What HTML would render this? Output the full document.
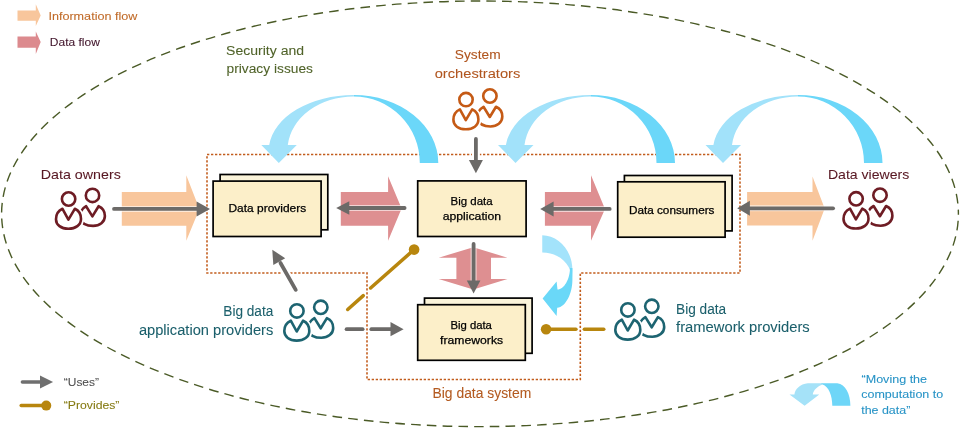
<!DOCTYPE html>
<html><head><meta charset="utf-8">
<style>
html,body{margin:0;padding:0;background:#fff;width:960px;height:428px;overflow:hidden}
svg{display:block;will-change:transform}
text{font-family:"Liberation Sans",sans-serif}
</style></head>
<body>
<svg width="960" height="428" viewBox="0 0 960 428">
<defs>
  <g id="pplS" fill="none" stroke-width="2.6" stroke-linejoin="round">
    <circle cx="23.9" cy="-3.6" r="6.7"/>
    <path d="M23.8,17.4 L30,7.2 C34.2,9 36.3,12.5 36.3,17 C36.3,23 31,26.9 24.5,26.9 C18,26.9 13,24.5 11,19.5 C10,15 13,9.5 17.5,7.2 Z"/>
    <path fill="#fff" stroke="#fff" stroke-width="6" d="M-0.2,20.6 L6.2,9.8 C10.3,11.6 12.4,15.5 12.4,20 C12.4,26 7,29.7 -0.2,29.7 C-7.5,29.7 -12.6,26 -12.6,20.2 C-12.6,15.5 -10,11.6 -6.1,9.8 Z"/>
    <path d="M-0.2,20.6 L6.2,9.8 C10.3,11.6 12.4,15.5 12.4,20 C12.4,26 7,29.7 -0.2,29.7 C-7.5,29.7 -12.6,26 -12.6,20.2 C-12.6,15.5 -10,11.6 -6.1,9.8 Z"/>
    <circle cx="0" cy="0" r="6.7"/>
  </g>
  <!-- curved down arrow, local: top at x=0, bottom y=0 -->
  <g id="cda">
    <path fill="#a2e2fa" d="M0,-68 A85,56 0 0 0 -84.6,-18 L-92.5,-18 L-75,0 L-57,-18 L-66,-18 A66,54 0 0 1 0,-66.5 Z"/>
    <path fill="#6bd7f9" d="M0,-68 A84.5,68 0 0 1 84.5,0 L66,0 A66,66.5 0 0 0 0,-66.5 Z"/>
  </g>
</defs>

<!-- dashed ellipse -->
<path d="M958.4,213.8 A478.4,212.8 0 0 1 1.6,213.8 A478.4,212.8 0 0 1 958.4,213.8 Z" fill="none" stroke="#4a5a26" stroke-width="1.4" stroke-dasharray="9.6 6.179" stroke-dashoffset="8.749"/>

<!-- legend top-left -->
<path d="M17.5,10.5 H35.8 V4.2 L40.7,15.6 L35.8,26 V20.8 H17.5 Z" fill="#f8c69c"/>
<path d="M17.5,36.5 H35.8 V31.5 L40.7,42 L35.8,54 V47.7 H17.5 Z" fill="#dc8a8e"/>
<text x="48.4" y="19.6" font-size="11.7" fill="#c06a28" textLength="89" lengthAdjust="spacingAndGlyphs" stroke="#c06a28" stroke-width="0.08">Information flow</text>
<text x="49.8" y="46.3" font-size="11.5" fill="#40142a" textLength="50" lengthAdjust="spacingAndGlyphs" stroke="#40142a" stroke-width="0.08">Data flow</text>

<!-- security text -->
<text font-size="13.7" fill="#4f6228" stroke="#4f6228" stroke-width="0.08"><tspan x="226.1" y="55.2" textLength="78" lengthAdjust="spacingAndGlyphs">Security and</tspan><tspan x="226.5" y="72.8" textLength="86.5" lengthAdjust="spacingAndGlyphs">privacy issues</tspan></text>

<!-- system orchestrators -->
<text font-size="13.7" fill="#b0551e" stroke="#b0551e" stroke-width="0.08"><tspan x="454.8" y="58.9" textLength="45.8" lengthAdjust="spacingAndGlyphs">System</tspan><tspan x="434.7" y="77.9" textLength="85.6" lengthAdjust="spacingAndGlyphs">orchestrators</tspan></text>

<!-- data owners / viewers -->
<text x="40.8" y="178.7" font-size="13.1" fill="#581823" textLength="80" lengthAdjust="spacingAndGlyphs" stroke="#581823" stroke-width="0.08">Data owners</text>
<text x="827.9" y="178.7" font-size="13.1" fill="#581823" textLength="81.4" lengthAdjust="spacingAndGlyphs" stroke="#581823" stroke-width="0.08">Data viewers</text>

<!-- info flow arrows big -->
<path d="M121.8,192.1 H186.3 V175.3 L199.4,208.9 L186.3,240.7 V225.7 H121.8 Z" fill="#f8c69c"/>
<path d="M747.1,192.1 H812.5 V176.4 L824.7,208.6 L812.5,240.7 V225.4 H747.1 Z" fill="#f8c69c"/>
<!-- data flow arrows -->
<path d="M340.8,192.1 H388.1 V176.2 L401.6,208.4 L388.1,240.7 V225.7 H340.8 Z" fill="#de8f91"/>
<path d="M544.9,192.1 H591 V175.3 L605,208.9 L591,240.7 V225.7 H544.9 Z" fill="#de8f91"/>
<path d="M473.3,247.2 L507.5,257.7 H491 V279 H507.5 L473.3,289.4 L438.7,279 H456.4 V257.7 H438.7 Z" fill="#de8f91"/>


<!-- boxes -->
<g stroke="#000" stroke-width="1.7">
  <rect x="220.1" y="174.5" width="107.7" height="55.3" fill="#fbf4da"/>
  <rect x="213.1" y="181.1" width="108" height="55.4" fill="#fcefc9"/>
  <rect x="417.7" y="180.9" width="108.4" height="55.6" fill="#fcefc9"/>
  <rect x="624.4" y="175.5" width="107.7" height="55.4" fill="#fbf4da"/>
  <rect x="617.7" y="181.8" width="107.4" height="55.4" fill="#fcefc9"/>
  <rect x="424.5" y="298.1" width="107.6" height="55.2" fill="#fbf4da"/>
  <rect x="417.7" y="304.7" width="107.6" height="55.6" fill="#fcefc9"/>
</g>
<g font-size="10.9" fill="#000" stroke="#000" stroke-width="0.25">
  <text x="228.5" y="212.4" textLength="77.6" lengthAdjust="spacingAndGlyphs">Data providers</text>
  <text x="628.9" y="213.5" textLength="85.6" lengthAdjust="spacingAndGlyphs">Data consumers</text>
  <text x="450.6" y="204.9" font-size="11.6" textLength="42" lengthAdjust="spacingAndGlyphs">Big data</text>
  <text x="442.7" y="220" font-size="11.6" textLength="58.4" lengthAdjust="spacingAndGlyphs">application</text>
  <text x="450.4" y="328.9" font-size="11.6" textLength="41.5" lengthAdjust="spacingAndGlyphs">Big data</text>
  <text x="440.1" y="344.2" font-size="11.6" textLength="63" lengthAdjust="spacingAndGlyphs">frameworks</text>
</g>

<!-- dotted border -->
<path d="M207,154.5 H740 V273 H580.3 V379.5 H367 V273 H207 Z" fill="none" stroke="#c25d1d" stroke-width="1.6" stroke-dasharray="2.3 1.7"/>

<!-- gray uses arrows -->
<g stroke="#fff" stroke-width="8" stroke-linecap="round">
  <line x1="475.9" y1="137" x2="475.9" y2="162"/>
  <line x1="296.7" y1="291.5" x2="280" y2="263"/>
</g>
<g stroke="#fff" stroke-opacity="0.6" stroke-width="6" stroke-linecap="round" fill="none">
  <line x1="114" y1="208.9" x2="198" y2="208.9"/>
  <line x1="404.6" y1="208" x2="348" y2="208"/>
  <line x1="609.7" y1="208.9" x2="552" y2="208.9"/>
  <line x1="833.1" y1="208.3" x2="749" y2="208.3"/>
  <line x1="473.6" y1="244" x2="473.6" y2="282"/>
  <line x1="475.9" y1="138.9" x2="475.9" y2="161"/>
  <line x1="295.75" y1="289.85" x2="280.5" y2="263"/>
  <line x1="346.6" y1="329.2" x2="362.6" y2="329.2"/>
  <line x1="371.3" y1="329.2" x2="392" y2="329.2"/>
</g>
<g stroke="#6c6a68" stroke-width="3.8" stroke-linecap="round" fill="none">
  <line x1="114" y1="208.9" x2="198" y2="208.9"/>
  <line x1="404.6" y1="208" x2="348" y2="208"/>
  <line x1="609.7" y1="208.9" x2="552" y2="208.9"/>
  <line x1="833.1" y1="208.3" x2="749" y2="208.3"/>
  <line x1="473.6" y1="244" x2="473.6" y2="282"/>
  <line x1="475.9" y1="138.9" x2="475.9" y2="161"/>
  <line x1="295.75" y1="289.85" x2="280.5" y2="263"/>
  <line x1="346.6" y1="329.2" x2="362.6" y2="329.2"/>
  <line x1="371.3" y1="329.2" x2="392" y2="329.2"/>
</g>
<g fill="#6c6a68">
  <path d="M210,208.9 L196.6,201.4 V216.4 Z"/>
  <path d="M336.2,208 L349.3,201.2 V214.7 Z"/>
  <path d="M540.2,208.9 L553.6,201.4 V216.4 Z"/>
  <path d="M737.2,208.3 L749.9,200.8 V215.8 Z"/>
  <path d="M473.6,293.6 L466.8,280.5 H480.4 Z"/>
  <path d="M475.9,173.3 L468.9,160 H482.9 Z"/>
  <path d="M272.3,249.8 L273.3,264.9 L285.2,258.2 Z"/>
  <path d="M403.6,329.2 L390.5,322.1 V336.3 Z"/>
</g>

<!-- gold provides lines -->
<g stroke="#b8860e" stroke-width="3.5" stroke-linecap="round" fill="none">
  <line x1="347.7" y1="309.5" x2="363.3" y2="295.6"/>
  <line x1="370.6" y1="288" x2="414.1" y2="249.6"/>
  <line x1="546.1" y1="329.2" x2="575.95" y2="329.2"/>
  <line x1="584.35" y1="329.2" x2="603.75" y2="329.2"/>
</g>
<g fill="#b8860e">
  <circle cx="414.1" cy="249.6" r="5.3"/>
  <circle cx="546.1" cy="329.2" r="5.3"/>
</g>

<!-- curved blue arrows -->
<use href="#cda" transform="translate(353.8,163)"/>
<use href="#cda" transform="translate(590.5,163)"/>
<use href="#cda" transform="translate(798,163)"/>

<!-- moving computation arrow (vertical) -->
<path fill="#a3e3fb" d="M542.25,235.2 C558,235.2 572.4,250 572.4,270 L572,278 C571,265 560,252.5 542.25,252.5 Z"/>
<path fill="#6ad8f8" d="M570,268 C570,279 564,289.6 557.5,289.6 L556.6,281.4 L542.6,298.4 L556.6,315.9 L557.2,307.7 C566,307 572.4,293 572.4,279.7 L572.4,268 Z"/>

<!-- people icons -->
<g stroke="#c55a15"><use href="#pplS" transform="translate(466,99.6)"/></g>
<g stroke="#6e1c24"><use href="#pplS" transform="translate(68.6,199)"/></g>
<g stroke="#6e1c24"><use href="#pplS" transform="translate(856.1,198.8)"/></g>
<g stroke="#1d6471"><use href="#pplS" transform="translate(296.9,310.9)"/></g>
<g stroke="#1d6471"><use href="#pplS" transform="translate(627.9,309.9)"/></g>

<!-- provider texts -->
<text font-size="14" fill="#1b5f6b" stroke="#1b5f6b" stroke-width="0.08"><tspan x="223.3" y="315.8" textLength="50" lengthAdjust="spacingAndGlyphs">Big data</tspan><tspan x="138.9" y="334.5" textLength="134.4" lengthAdjust="spacingAndGlyphs">application providers</tspan></text>
<text font-size="14" fill="#1b5f6b" stroke="#1b5f6b" stroke-width="0.08"><tspan x="676.1" y="314" textLength="50" lengthAdjust="spacingAndGlyphs">Big data</tspan><tspan x="676.1" y="332.4" textLength="133.6" lengthAdjust="spacingAndGlyphs">framework providers</tspan></text>

<text x="432.5" y="398.1" font-size="14" fill="#b35a20" textLength="98.75" lengthAdjust="spacingAndGlyphs" stroke="#b35a20" stroke-width="0.08">Big data system</text>

<!-- legend bottom-left -->
<line x1="22.4" y1="381.9" x2="42" y2="381.9" stroke="#6f6f6f" stroke-width="3.5" stroke-linecap="round"/>
<path d="M53.1,381.9 L40,375.6 V388.5 Z" fill="#6f6f6f"/>
<text x="63.75" y="385.6" font-size="11.3" fill="#4f4f4f" textLength="35.25" lengthAdjust="spacingAndGlyphs" stroke="#4f4f4f" stroke-width="0.08">“Uses”</text>
<line x1="21.2" y1="405.6" x2="46" y2="405.6" stroke="#b8860e" stroke-width="3.5" stroke-linecap="round"/>
<circle cx="46.25" cy="405.6" r="5" fill="#b8860e"/>
<text x="63.75" y="409.4" font-size="11.3" fill="#857a12" textLength="55.65" lengthAdjust="spacingAndGlyphs" stroke="#857a12" stroke-width="0.08">“Provides”</text>

<!-- legend small curved arrow -->
<path fill="#a5e2f8" d="M807.9,383.2 L822,383.2 L822.6,384.4 C818,386 813,390 812.8,394.6 L819.3,394.6 L804.6,405.7 L789.5,394.6 L794.4,394.6 C795,389 800,384 807.9,383.2 Z"/>
<path fill="#6ed6f8" d="M821,383.2 L837.3,383.2 C845.5,384 850.4,394 850.4,405.7 L832.3,405.7 C832.3,395 828.5,386.5 822.6,384.4 Z"/>

<text font-size="10.3" fill="#2793c6" stroke="#2793c6" stroke-width="0.08"><tspan x="861.5" y="382.5" textLength="65.6" lengthAdjust="spacingAndGlyphs">“Moving the</tspan><tspan x="861.2" y="398.4" textLength="82" lengthAdjust="spacingAndGlyphs">computation to</tspan><tspan x="861.2" y="414" textLength="49.1" lengthAdjust="spacingAndGlyphs">the data”</tspan></text>

</svg>
</body></html>
